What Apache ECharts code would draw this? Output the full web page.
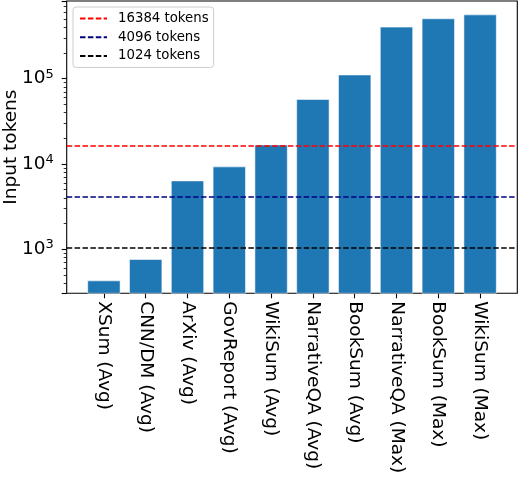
<!DOCTYPE html>
<html>
<head>
<meta charset="utf-8">
<script src="https://cdn.jsdelivr.net/npm/echarts@6/dist/echarts.min.js"></script>
<style>
  html, body { margin: 0; padding: 0; background: #fff; }
  #chart { width: 520px; height: 478px; }
</style>
</head>
<body>
<div id="chart"></div>
<script>
// data
const categories = ['XSum (Avg)', 'CNN/DM (Avg)', 'ArXiv (Avg)', 'GovReport (Avg)', 'WikiSum (Avg)',
    'NarrativeQA (Avg)', 'BookSum (Avg)', 'NarrativeQA (Max)', 'BookSum (Max)', 'WikiSum (Max)'];
const inputTokens = [430, 765, 6400, 9350, 16900, 57800, 112000, 408000, 511000, 568000];
const limitNames = ['16384 tokens', '4096 tokens', '1024 tokens'];
const limitValues = [16384, 4096, 1024];
const limitColors = ['red', 'navy', '#000000'];

const font = 'DejaVu Sans';
const catIdx = categories.map((c, i) => i);

var chart = echarts.init(document.getElementById('chart'));

var series = [{
    type: 'bar',
    name: 'tokens',
    data: inputTokens.map((v, i) => [i, v]),
    barWidth: 33.4,
    itemStyle: {
        color: '#1f77b4',
        borderColor: 'rgba(255,255,255,0.55)',
        borderWidth: 1
    },
    emphasis: { disabled: true },
    z: 2
}];

// one empty line series per limit, only for the legend + its markLine
limitValues.forEach(function (v, k) {
    series.push({
        type: 'line',
        name: limitNames[k],
        data: [],
        symbol: 'none',
        showSymbol: false,
        lineStyle: { color: limitColors[k], type: [5.5, 2.4], width: 1.5 },
        itemStyle: { color: limitColors[k] },
        z: 5,
        markLine: {
            silent: true,
            symbol: ['none', 'none'],
            label: { show: false },
            lineStyle: { color: limitColors[k], type: [5.5, 2.4], width: 1.5 },
            emphasis: { disabled: true },
            data: [{ yAxis: v }]
        }
    });
});

var option = {
    animation: false,
    textStyle: { fontFamily: font },
    grid: {
        left: 66.7, right: 2.7, top: 1, bottom: 184.7,
        outerBoundsMode: 'none',
        containLabel: false,
        show: true, borderColor: '#000', borderWidth: 1.1,
        backgroundColor: 'transparent'
    },
    legend: {
        orient: 'vertical',
        left: 73, top: 7,
        padding: [5, 5, 5, 6],
        itemWidth: 27, itemHeight: 14, itemGap: 5.7,
        itemStyle: { opacity: 0 },
        borderColor: '#cccccc', borderWidth: 1, borderRadius: 3,
        backgroundColor: 'rgba(255,255,255,0.8)',
        data: limitNames,
        textStyle: { fontFamily: font, fontSize: 13.3, color: '#000', padding: [0, 0, 0, 6] }
    },
    xAxis: {
        type: 'value',
        min: -0.89, max: 9.89,
        splitLine: { show: false },
        axisLine: { show: false, onZero: false },
        axisTick: { show: true, customValues: catIdx, length: 5, lineStyle: { color: '#000', width: 1.1 } },
        axisLabel: {
            customValues: catIdx,
            rotate: -90,
            margin: 8,
            fontFamily: font, fontSize: 18.5, color: '#000',
            formatter: function (v) { return categories[Math.round(v)]; }
        }
    },
    yAxis: {
        type: 'log',
        logBase: 10,
        min: 303, max: 815000,
        splitNumber: 3,
        position: 'left',
        name: 'Input tokens',
        nameLocation: 'middle',
        nameGap: 46,
        nameMoveOverlap: false,
        nameTextStyle: { fontFamily: font, fontSize: 18.5, color: '#000' },
        splitLine: { show: false },
        minorSplitLine: { show: false },
        axisLine: { show: false, onZero: false },
        axisTick: { show: true, length: 5, lineStyle: { color: '#000', width: 1.1 } },
        minorTick: { show: true, splitNumber: 9, length: 3, lineStyle: { color: '#000', width: 0.8 } },
        axisLabel: {
            showMinLabel: false,
            showMaxLabel: false,
            margin: 13,
            fontFamily: font, fontSize: 18.5, color: '#000',
            formatter: function (v) {
                var e = Math.log10(v);
                if (Math.abs(e - Math.round(e)) > 1e-6) return '';
                return '10{sup|' + Math.round(e) + '}';
            },
            rich: {
                sup: { fontFamily: font, fontSize: 13, color: '#000', padding: [0, 0, 9, 0] }
            }
        }
    },
    series: series
};

chart.setOption(option);
</script>
</body>
</html>
